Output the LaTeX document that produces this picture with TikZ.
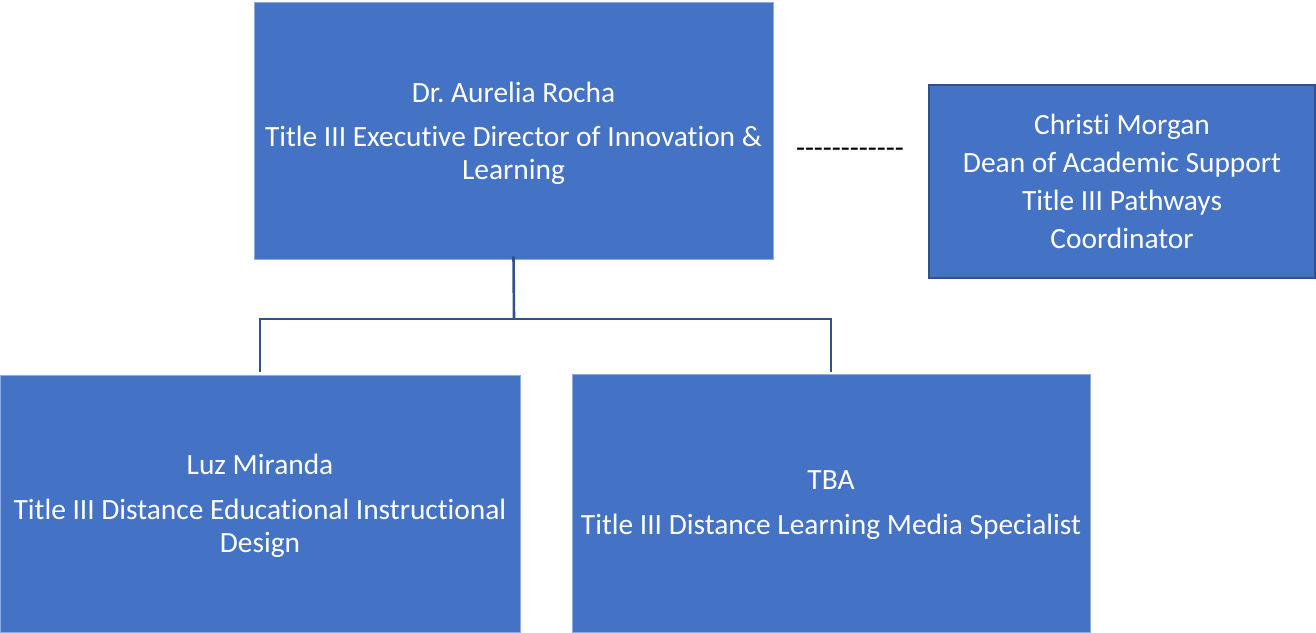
\documentclass[tikz,border=0pt]{standalone}
\usepackage{fontspec}
\setmainfont[Ligatures={NoCommon}]{Carlito}
\frenchspacing
\definecolor{boxblue}{HTML}{4472C4}
\definecolor{edgeblue}{HTML}{2F528F}
\definecolor{lightedge}{HTML}{8FAADC}
\begin{document}
\begin{tikzpicture}[x=1pt,y=-1pt,
  orgbox/.style={rectangle, fill=boxblue, draw=lightedge, line width=0.8pt, text=white, align=center, inner sep=0pt, font=\fontsize{29.4}{33}\selectfont},
  link/.style={draw=edgeblue, line width=2.6pt}]
\useasboundingbox (0,0) rectangle (1316,632);
\node[orgbox, minimum width=519pt, minimum height=257pt, text depth=-4pt] (top) at (513.5,130.5)
  {Dr. Aurelia Rocha\\[11pt] Title III Executive Director of Innovation \&\\ Learning};
\node[orgbox, draw=edgeblue, line width=2pt, minimum width=386pt, minimum height=193pt, font=\fontsize{29.4}{38}\selectfont] (right) at (1122,181.5)
  {Christi Morgan\\ Dean of Academic Support\\ Title III Pathways\\ Coordinator};
\node[orgbox, minimum width=520pt, minimum height=257pt, text depth=-3pt] (bl) at (260,503.5)
  {Luz Miranda\\[12pt] Title III Distance Educational Instructional\\ Design};
\node[orgbox, minimum width=518pt, minimum height=258pt, text depth=-4pt] (br) at (831,503)
  {TBA\\[12pt] Title III Distance Learning Media Specialist};
\node[font=\fontsize{29.4}{33}\selectfont, inner sep=0pt] (dash) at (850,153) {-{}-{}-{}-{}-{}-{}-{}-{}-{}-{}-{}-};
\coordinate (j) at (514,319);
\draw[link] ([yshift=3pt]top.south) -- (j);
\draw[link] (260,372) |- (j) -| (831,372);
\end{tikzpicture}
\end{document}
